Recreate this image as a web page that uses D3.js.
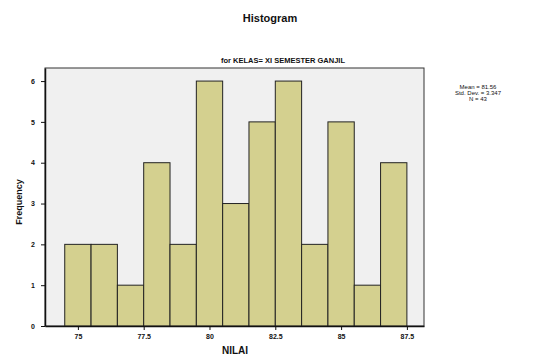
<!DOCTYPE html>
<html>
<head>
<meta charset="utf-8">
<script src="https://cdn.jsdelivr.net/npm/d3@7"></script>
<style>
  body { margin: 0; background: #fff; }
  svg text { font-family: "Liberation Sans", Arial, sans-serif; fill: #111; }
</style>
</head>
<body>
<div id="chart"></div>
<script>
// histogram bins (lower edge) and counts
const binStarts = [74.5, 75.5, 76.5, 77.5, 78.5, 79.5, 80.5, 81.5, 82.5, 83.5, 84.5, 85.5, 86.5];
const counts = [2, 2, 1, 4, 2, 6, 3, 5, 6, 2, 5, 1, 4];
const binWidth = 1;
const xTicks = [75, 77.5, 80, 82.5, 85, 87.5];
const yTicks = [0, 1, 2, 3, 4, 5, 6];
const legendLines = ['Mean = 81.56', 'Std. Dev. = 3.347', 'N = 43'];

const W = 537, H = 360;
const box = { left: 45, right: 424, top: 68, bottom: 326 };

const svg = d3.select('#chart').append('svg')
  .attr('width', W).attr('height', H);

const x = d3.scaleLinear().domain([73.75, 88.15]).range([box.left, box.right]);
const y = d3.scaleLinear().domain([0, 6.32]).range([box.bottom, box.top]);

// plot background
svg.append('rect')
  .attr('x', box.left).attr('y', box.top)
  .attr('width', box.right - box.left).attr('height', box.bottom - box.top)
  .attr('fill', '#f0f0f0').attr('stroke', '#333').attr('stroke-width', 1);

svg.append('g').selectAll('rect')
  .data(binStarts)
  .join('rect')
  .attr('x', d => x(d))
  .attr('y', (d, i) => y(counts[i]))
  .attr('width', d => x(d + binWidth) - x(d))
  .attr('height', (d, i) => y(0) - y(counts[i]))
  .attr('fill', '#d4d08f')
  .attr('stroke', '#222')
  .attr('stroke-width', 1);

const xAxis = d3.axisBottom(x).tickValues(xTicks).tickSize(4).tickSizeOuter(0)
  .tickFormat(d => String(d));
svg.append('g')
  .attr('transform', `translate(0,${box.bottom})`)
  .call(xAxis)
  .call(g => g.select('.domain').attr('stroke', '#111').attr('stroke-width', 1.5))
  .call(g => g.selectAll('.tick line').attr('stroke', '#111'))
  .call(g => g.selectAll('.tick text').attr('font-size', 7).attr('font-weight', 'bold').attr('dy', '0.9em'));

const yAxis = d3.axisLeft(y).tickValues(yTicks).tickSize(4).tickSizeOuter(0)
  .tickFormat(d3.format('d'));
svg.append('g')
  .attr('transform', `translate(${box.left},0)`)
  .call(yAxis)
  .call(g => g.select('.domain').attr('stroke', '#111').attr('stroke-width', 1.5))
  .call(g => g.selectAll('.tick line').attr('stroke', '#111'))
  .call(g => g.selectAll('.tick text').attr('font-size', 7).attr('font-weight', 'bold').attr('dx', '-3'));

// titles
svg.append('text').attr('x', 270).attr('y', 22)
  .attr('text-anchor', 'middle').attr('font-size', 11).attr('font-weight', 'bold')
  .text('Histogram');
svg.append('text').attr('x', 283).attr('y', 63)
  .attr('text-anchor', 'middle').attr('font-size', 7.5).attr('font-weight', 'bold')
  .text('for KELAS= XI SEMESTER GANJIL');
svg.append('text').attr('x', 235).attr('y', 354)
  .attr('text-anchor', 'middle').attr('font-size', 10).attr('font-weight', 'bold')
  .text('NILAI');
svg.append('text')
  .attr('transform', `translate(22,${(box.top + box.bottom) / 2 + 5}) rotate(-90)`)
  .attr('text-anchor', 'middle').attr('font-size', 9).attr('font-weight', 'bold')
  .text('Frequency');

// legend
svg.append('g').selectAll('text')
  .data(legendLines)
  .join('text')
  .attr('x', 478)
  .attr('y', (d, i) => 89 + i * 6)
  .attr('text-anchor', 'middle')
  .attr('font-size', 6)
  .text(d => d);
</script>
</body>
</html>
